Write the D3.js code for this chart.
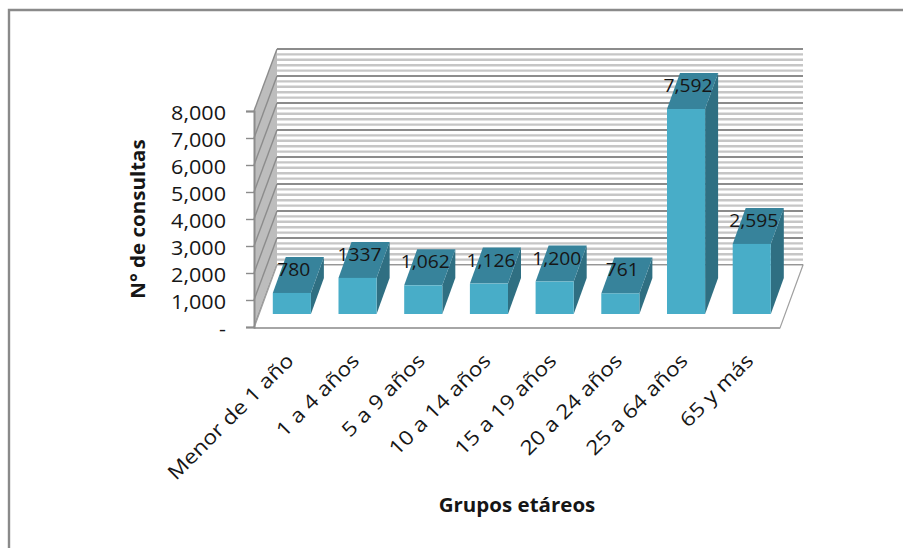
<!DOCTYPE html>
<html lang="es">
<head>
<meta charset="utf-8">
<title>Consultas por grupos etáreos</title>
<script src="https://cdnjs.cloudflare.com/ajax/libs/d3/7.8.5/d3.min.js"></script>
<style>
  html, body { margin: 0; padding: 0; background: #fff; }
  svg { display: block; }
  text { font-family: "Open Sans", "Noto Sans", sans-serif; fill: #161616; }
</style>
</head>
<body>
<svg id="chart" width="903" height="548"></svg>
<script>
// Age groups and number of consultations for each one
const categories = ["Menor de 1 año", "1 a 4 años", "5 a 9 años", "10 a 14 años",
                    "15 a 19 años", "20 a 24 años", "25 a 64 años", "65 y más"];
const consultas = [780, 1337, 1062, 1126, 1200, 761, 7592, 2595];
const valueLabels = ["780", "1337", "1,062", "1,126", "1,200", "761", "7,592", "2,595"];
const yMax = 8000;
const yTicks = [0, 1000, 2000, 3000, 4000, 5000, 6000, 7000, 8000];
const yTitle = "N° de consultas";
const xTitle = "Grupos etáreos";

const svg = d3.select("#chart");

// Oblique projection: front plane of the box plus an offset towards the back wall
const y = d3.scaleLinear().domain([0, yMax]).range([327, 111]);
const x = d3.scaleBand().domain(categories).range([259, 784.6]).paddingInner(0.42).paddingOuter(0.21);
const wall = { dx: 23, dy: -62, left: 254, right: 780 };
const bar = { dx: 13, dy: -36, lift: 13 };
const textStretch = 1.08;

const poly = pts => pts.map(p => p.join(",")).join(" ");

// Chart frame: only the top and left edges are visible
svg.append("path").attr("d", "M9,548V10H903").attr("fill", "none")
   .attr("stroke", "#8a8a8a").attr("stroke-width", 2.4);

// Back wall stripes
const back = svg.append("g");
const minor = d3.range(0, yMax + 1, 200);
back.selectAll("line.minor").data(minor.filter(v => v % 1000 !== 0)).join("line")
    .attr("class", "minor")
    .attr("x1", wall.left + wall.dx).attr("x2", wall.right + wall.dx)
    .attr("y1", d => y(d) + wall.dy).attr("y2", d => y(d) + wall.dy)
    .attr("stroke", "#c6c6c6").attr("stroke-width", 2.4);
back.selectAll("line.major").data(yTicks).join("line")
    .attr("class", "major")
    .attr("x1", wall.left + wall.dx).attr("x2", wall.right + wall.dx)
    .attr("y1", d => y(d) + wall.dy).attr("y2", d => y(d) + wall.dy)
    .attr("stroke", "#8c8c8c").attr("stroke-width", 2);

// Side wall with its slanted gridlines
svg.append("polygon")
   .attr("points", poly([[wall.left, y(yMax)], [wall.left + wall.dx, y(yMax) + wall.dy],
                         [wall.left + wall.dx, y(0) + wall.dy], [wall.left, y(0)]]))
   .attr("fill", "#bdbdbd");
svg.append("g").selectAll("line").data(yTicks).join("line")
   .attr("x1", wall.left).attr("x2", wall.left + wall.dx)
   .attr("y1", d => y(d)).attr("y2", d => y(d) + wall.dy)
   .attr("stroke", "#8c8c8c").attr("stroke-width", 1.4);

// Floor
svg.append("polygon")
   .attr("points", poly([[wall.left, y(0) + 1], [wall.right, y(0) + 1],
                         [wall.right + wall.dx, y(0) + wall.dy], [wall.left + wall.dx, y(0) + wall.dy]]))
   .attr("fill", "#fff").attr("stroke", "#a0a0a0").attr("stroke-width", 1.2);
svg.append("line").attr("x1", wall.left).attr("x2", wall.right)
   .attr("y1", y(0) + 1).attr("y2", y(0) + 1).attr("stroke", "#a6a6a6").attr("stroke-width", 2);

// Value axis
const axis = d3.axisLeft(y).tickValues(yTicks).tickSize(8).tickPadding(20)
   .tickFormat(d => d === 0 ? "-" : d3.format(",")(d));
const gAxis = svg.append("g").attr("transform", `translate(${wall.left},0)`).call(axis);
gAxis.select(".domain").attr("stroke", "#8c8c8c").attr("stroke-width", 2);
gAxis.selectAll(".tick line").attr("stroke", "#8c8c8c").attr("stroke-width", 1.4);
gAxis.selectAll(".tick text")
   .attr("font-size", 20).attr("fill", "#161616").attr("dy", "0.4em")
   .each(function () {
     const t = d3.select(this);
     const ax = +t.attr("x");
     t.attr("x", 0).attr("transform", `translate(${ax},0) scale(${textStretch},1)`);
   });

// Bars: front, top and side faces
const bars = svg.append("g").selectAll("g").data(categories).join("g");
const base = y(0) - bar.lift;
const h = v => y(0) - y(v);
bars.append("polygon").attr("fill", "#2f6f82").attr("points", (d, i) => {
  const r = x(d) + x.bandwidth(), t = base - h(consultas[i]);
  return poly([[r, t], [r + bar.dx, t + bar.dy], [r + bar.dx, base + bar.dy], [r, base]]);
});
bars.append("polygon").attr("fill", "#37839b").attr("points", (d, i) => {
  const l = x(d), r = l + x.bandwidth(), t = base - h(consultas[i]);
  return poly([[l, t], [r, t], [r + bar.dx, t + bar.dy], [l + bar.dx, t + bar.dy]]);
});
bars.append("rect").attr("fill", "#48adc8")
   .attr("x", d => x(d)).attr("width", x.bandwidth())
   .attr("y", (d, i) => base - h(consultas[i])).attr("height", (d, i) => h(consultas[i]));

// Value labels above each bar front
bars.append("text")
   .attr("text-anchor", "middle").attr("font-size", 17.5)
   .attr("transform", (d, i) =>
     `translate(${x(d) + x.bandwidth() / 2 + 2},${base - h(consultas[i]) - 17}) scale(1.1,1)`)
   .text((d, i) => valueLabels[i]);

// Slanted category labels
svg.append("g").selectAll("text").data(categories).join("text")
   .attr("text-anchor", "end").attr("font-size", 20)
   .attr("transform", d =>
     `translate(${x(d) + x.bandwidth() / 2 + 3},${362}) rotate(-45) scale(1.14,1)`)
   .text(d => d);

// Axis titles
svg.append("text").attr("text-anchor", "middle").attr("font-size", 19).attr("font-weight", 700)
   .attr("transform", `translate(145,219) rotate(-90) scale(1.08,1)`).text(yTitle);
svg.append("text").attr("text-anchor", "middle").attr("font-size", 19).attr("font-weight", 700)
   .attr("transform", `translate(517,512) scale(1.08,1)`).text(xTitle);
</script>
</body>
</html>
